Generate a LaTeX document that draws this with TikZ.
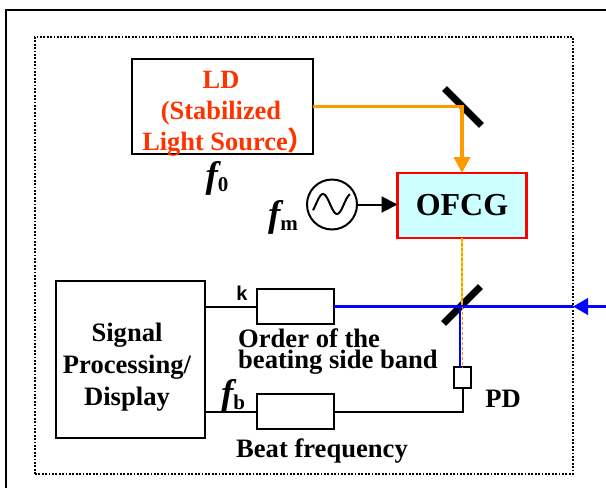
\documentclass[tikz,border=0pt]{standalone}
\usepackage{fontspec}
\setmainfont{Liberation Serif}
\setsansfont{Liberation Sans}
\newfontfamily\cjk{Noto Sans CJK SC}
\usetikzlibrary{arrows.meta}
\definecolor{beamorange}{HTML}{FF9900}
\definecolor{ldred}{HTML}{FF3300}
\definecolor{ofcgcyan}{HTML}{CCFFFF}
\newcommand{\fsym}[1]{{\fontsize{37}{37}\selectfont\bfseries\itshape f}\raisebox{-4pt}{\fontsize{21}{21}\selectfont\bfseries #1}}
\begin{document}
\begin{tikzpicture}[
  x=1pt, y=-1pt,
  block/.style={rectangle, draw, line width=2pt, inner sep=0pt, outer sep=0pt, align=center},
  filterbox/.style={block, minimum width=77pt, minimum height=35pt},
  mirror/.style={rectangle, fill=black, inner sep=0pt, minimum width=52pt, minimum height=7pt},
  label/.style={font=\fontsize{26.6}{21}\selectfont\bfseries, inner sep=0pt, align=center},
  wire/.style={line width=2pt},
  beam/.style={line width=3.8pt}
]
\useasboundingbox (0,0) rectangle (606,488);
\draw[line width=2.4pt] (606,10) -- (6,10) -- (6,488);
\node[draw, line width=1.8pt, dash pattern=on 1.8pt off 1.6pt, minimum width=538pt, minimum height=437pt, inner sep=0pt] (housing) at (304,255.5) {};

\node[block, minimum width=181pt, minimum height=95pt] (ld) at (222.5,106.5) {};
\node[label, text=ldred, font=\fontsize{26.4}{31}\selectfont\bfseries] (ldtext) at (221,113.5) {LD\\(Stabilized\\Light Source{\cjk\makebox[12pt][l]{）}}};
\node[block, draw=red, line width=2.6pt, fill=ofcgcyan, minimum width=129pt, minimum height=65pt, font=\fontsize{32}{32}\selectfont\bfseries] (ofcg) at (462,205.5) {OFCG};
\node[circle, draw, line width=2pt, inner sep=0pt, outer sep=0pt, minimum size=50pt] (osc) at (332,204.5) {};
\node[block, minimum width=149pt, minimum height=157pt] (signal) at (130.5,359.5) {};
\node[label, font=\fontsize{26.6}{32}\selectfont\bfseries] (signaltext) at (127,367) {Signal\\Processing/\\Display};
\node[filterbox] (korder) at (295.5,306.5) {};
\node[filterbox] (fbeat) at (295.5,411.5) {};
\node[block, minimum width=17pt, minimum height=21pt] (pd) at (462.5,377.5) {};
\node[mirror, rotate=-45] (mirrorld) at (463,107) {};
\node[mirror, rotate=45] (mirrorpd) at (462,305) {};

% Beams
\draw[beam, beamorange, -{Triangle[length=16pt,width=16pt]}] (ld.east) -| (ofcg.north);
\draw[line width=2.6pt, yellow!70!orange] (ofcg.south) -- (mirrorpd.center);
\draw[line width=2.6pt, beamorange, dash pattern=on 3pt off 2pt] (ofcg.south) -- (mirrorpd.center);
\coordinate (bluein) at (606,306.5);
\coordinate (bluetip) at (573,306.5);
\coordinate (bluecross) at (460,306.5);
\draw[beam, blue, -{Triangle[length=15pt,width=16pt]}] (bluein) -- (bluetip);
\draw[beam, blue] (bluetip) -- (bluecross);
\draw[line width=2.8pt, blue] (bluecross) -- (korder.east);
\draw[line width=1.8pt, beamorange, dash pattern=on 3pt off 2pt] (bluecross -| pd.north) -- (pd.north);
\draw[line width=2.6pt, blue] (bluecross) -- (bluecross |- pd.north);

% Wires
\draw[wire, -{Triangle[length=16pt,width=16pt]}] (osc.east) -- (osc.east -| ofcg.west);
\draw[wire] (signal.east |- korder) -- (korder.west);
\draw[wire] (signal.east |- fbeat) -- (fbeat.west);
\draw[wire] (pd.south) |- (fbeat.east);
\draw[wire, shift={(330,204)}] plot[smooth, domain=-17:20, samples=30] (\x,{10*sin(\x*180/14)});

% Labels
\node[inner sep=0pt] (f0) at (217,178) {\fsym{0}};
\node[inner sep=0pt] (fm) at (283,217) {\fsym{m}};
\node[inner sep=0pt] (fb) at (233,396) {\fsym{b}};
\node[inner sep=0pt, font=\sffamily\bfseries\fontsize{20}{20}\selectfont] (k) at (242,293) {k};
\node[label, align=left, anchor=north west] (ordertext) at (238,329) {Order of the\\beating side band};
\node[label] (beattext) at (322,451) {Beat frequency};
\node[label] (pdtext) at (503,399) {PD};
\end{tikzpicture}
\end{document}
